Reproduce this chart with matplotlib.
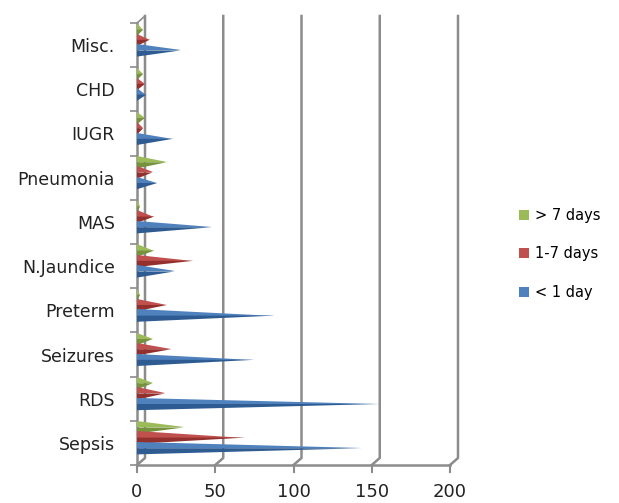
import matplotlib
matplotlib.use("Agg")
import matplotlib.pyplot as plt
from matplotlib.patches import Polygon, Patch
from matplotlib.lines import Line2D

categories = ["Sepsis", "RDS", "Seizures", "Preterm", "N.Jaundice", "MAS",
              "Pneumonia", "IUGR", "CHD", "Misc."]
less_1_day = [144, 155, 75, 88, 24, 48, 13, 23, 6, 28]
days_1_7 = [69, 18, 22, 19, 36, 11, 10, 4, 5, 8]
more_7_days = [30, 10, 10, 2, 11, 2, 19, 5, 4, 4]
series_names = ["< 1 day", "1-7 days", "> 7 days"]
xticks = [0, 50, 100, 150, 200]

colors = {"< 1 day": ("#4F81BD", "#2E5C92"),
          "1-7 days": ("#C0504D", "#93302D"),
          "> 7 days": ("#9BBB59", "#76923C")}
offsets = {"< 1 day": -0.12, "1-7 days": 0.12, "> 7 days": 0.35}
half_h = 0.14

W, H = 619, 503
fig = plt.figure(figsize=(W / 100, H / 100), dpi=100)
x0p, x1p, ybot, ytop = 137, 450, 465, 23
ax = fig.add_axes([x0p / W, (H - ybot) / H, (x1p - x0p) / W, (ybot - ytop) / H])
ax.set_xlim(0, 200)
ax.set_ylim(-0.5, 9.5)
for s in ax.spines.values():
    s.set_visible(False)

dx = 8 * 200 / (x1p - x0p)
dy = 7 * 10 / (ybot - ytop)
gcol = "#8C8C8C"

# back wall gridlines and floor diagonals
for v in xticks:
    ax.add_line(Line2D([v, v + dx, v + dx], [-0.5, -0.5 + dy, 9.5 + dy],
                       color=gcol, lw=1.8, clip_on=False, zorder=1))
# front axes
ax.add_line(Line2D([0, 200], [-0.5, -0.5], color=gcol, lw=1.8, clip_on=False, zorder=3))
ax.add_line(Line2D([0, 0], [-0.5, 9.5], color=gcol, lw=1.8, clip_on=False, zorder=3))
ax.add_line(Line2D([0, dx], [9.5, 9.5 + dy], color=gcol, lw=1.2, clip_on=False, zorder=3))

series_vals = {"< 1 day": less_1_day, "1-7 days": days_1_7, "> 7 days": more_7_days}
for name in ["> 7 days", "1-7 days", "< 1 day"]:
    light, dark = colors[name]
    for i, v in enumerate(series_vals[name]):
        yc = i + offsets[name]
        ax.add_patch(Polygon([[0, yc + half_h], [0, yc], [v, yc]], closed=True,
                             facecolor=light, edgecolor="none", zorder=4, clip_on=False))
        ax.add_patch(Polygon([[0, yc], [0, yc - half_h], [v, yc]], closed=True,
                             facecolor=dark, edgecolor="none", zorder=4, clip_on=False))

ax.set_xticks(xticks)
ax.set_xticklabels([str(t) for t in xticks], fontsize=13, color="#222222")
ax.tick_params(axis="x", length=6, width=1.5, color=gcol, pad=7)
ax.set_yticks(range(len(categories)))
ax.set_yticklabels(categories, fontsize=12.5, color="#222222")
ax.tick_params(axis="y", length=0, pad=16)
ax.set_yticks([i - 0.5 for i in range(len(categories) + 1)], minor=True)
ax.tick_params(axis="y", which="minor", length=5, width=1.2, color=gcol)

handles = [Patch(facecolor=colors[n][0], edgecolor="none") for n in ["> 7 days", "1-7 days", "< 1 day"]]
fig.legend(handles, ["> 7 days", "1-7 days", "< 1 day"], loc="upper left",
           bbox_to_anchor=(506 / W, 1 - 195 / H), frameon=False, fontsize=10.5,
           handlelength=0.7, handleheight=0.7, handletextpad=0.4, labelspacing=1.6)

fig.savefig("out.png", dpi=100)
